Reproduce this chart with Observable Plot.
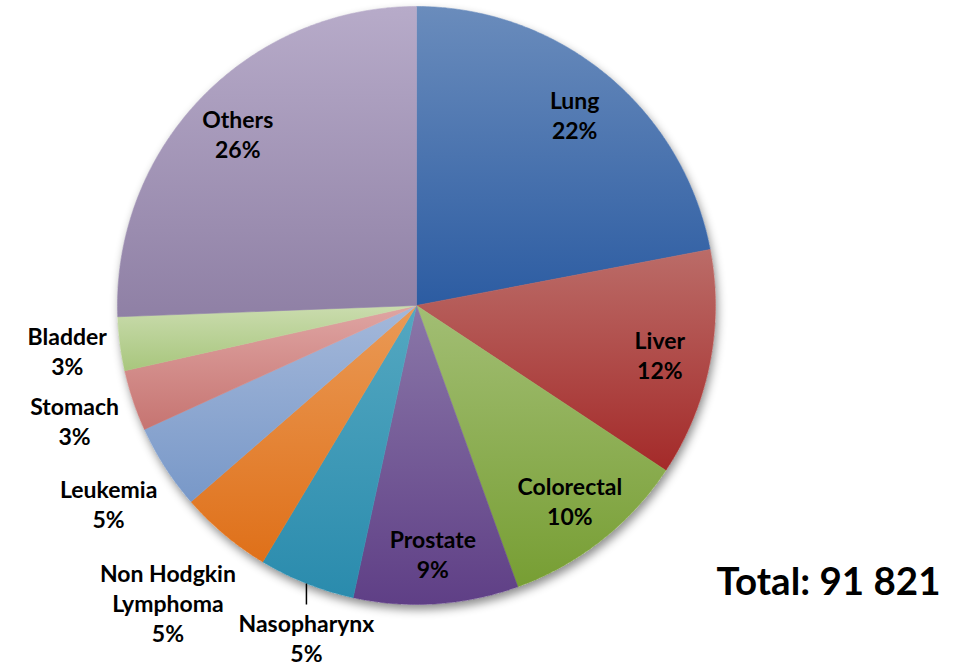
<!DOCTYPE html>
<html><head><meta charset="utf-8">
<script src="https://cdn.jsdelivr.net/npm/d3@7"></script>
<script src="https://cdn.jsdelivr.net/npm/@observablehq/plot@0.6"></script>
<style>body{margin:0;background:#fff} #chart{width:968px;height:666px}</style>
</head><body><div id="chart"></div>
<script>
// ---- data ----
const cancers = ["Lung","Liver","Colorectal","Prostate","Nasopharynx","Non Hodgkin Lymphoma","Leukemia","Stomach","Bladder","Others"];
const labelNames = ["Lung","Liver","Colorectal","Prostate","Nasopharynx","Non Hodgkin\nLymphoma","Leukemia","Stomach","Bladder","Others"];
const shares = [22.0, 12.3, 10.2, 8.9, 5.2, 5.0, 4.6, 3.3, 2.9, 25.6];
const totalLabel = "Total: 91 821";
// ---- palette ----
const gradTop    = ["#6a8cbc","#bb6c68","#a2be74","#8a77a8","#54a8c1","#ea9a56","#a4b8da","#dfa5a3","#cadcae","#b7abc9"];
const gradBottom = ["#2c5ca2","#a42a29","#779e33","#5f3f86","#2a8bad","#df7019","#7898c8","#c67471","#a8c67d","#8f80a5"];

// ---- layout ----
const W = 968, H = 666, CX = 416, CY = 305, R = 299;
const FONT = "Lato, 'Open Sans', sans-serif";
const FS = 23, LH = 1.3;

const arcs = d3.pie().sort(null).value(d => d)(shares);
const step = Math.PI / 360;
const slices = arcs.map((a, i) => {
  const n = Math.max(2, Math.ceil((a.endAngle - a.startAngle) / step));
  const pts = [{x: 0, y: 0}];
  for (let k = 0; k <= n; k++) {
    const t = a.startAngle + (a.endAngle - a.startAngle) * k / n;
    pts.push({x: Math.sin(t), y: Math.cos(t)});
  }
  pts.push({x: 0, y: 0});
  return pts;
});
const circle = d3.range(0, 721).map(k => ({x: Math.sin(k * step), y: Math.cos(k * step)}));

// measure text
const ctx = document.createElement("canvas").getContext("2d");
ctx.font = `bold ${FS}px ${FONT}`;

const labels = [];
const leaders = [];
arcs.forEach((a, i) => {
  const mid = (a.startAngle + a.endAngle) / 2;
  const ux = Math.sin(mid), uy = -Math.cos(mid); // screen direction
  const text = labelNames[i] + "\n" + Math.round(shares[i]) + "%";
  const lines = text.split("\n");
  if (shares[i] >= 8) {
    const r = 0.83;
    labels.push({x: r * ux, y: -r * uy, text});
  } else {
    const w = d3.max(lines, l => ctx.measureText(l).width) / 2;
    const h = lines.length * FS * LH / 2;
    if (Math.abs(uy) > 0.9) {
      const ex = R * ux, ey = R * uy;
      const drop = 21;
      leaders.push({x1: ex / R, y1: -ey / R, x2: ex / R, y2: -(ey + drop) / R});
      labels.push({x: ex / R, y: -(ey + drop + 3 + h) / R, text});
    } else {
      const extent = Math.abs(ux) * w + Math.abs(uy) * h;
      const r = (R + 10 + extent) / R;
      labels.push({x: r * ux, y: -r * uy, text});
    }
  }
});

const plot = Plot.plot({
  width: W, height: H,
  margin: 0,
  x: {domain: [-CX / R, (W - CX) / R], axis: null},
  y: {domain: [-(H - CY) / R, CY / R], axis: null},
  style: {fontFamily: FONT, background: "white"},
  marks: [
    Plot.line(circle, {x: "x", y: "y", fill: "white", stroke: "none"}),
    ...slices.map((pts, i) => Plot.line(pts, {x: "x", y: "y", fill: `url(#sg${i})`, stroke: `url(#sg${i})`, strokeWidth: 0.6})),
    Plot.link(leaders, {x1: "x1", y1: "y1", x2: "x2", y2: "y2", stroke: "black", strokeWidth: 1.5}),
    Plot.text(labels, {x: "x", y: "y", text: "text", fontSize: FS, fontWeight: "bold", fontFamily: FONT, lineHeight: LH, fill: "black", textAnchor: "middle", lineAnchor: "middle"}),
    Plot.text([totalLabel], {frameAnchor: "bottom-right", text: d => d, textAnchor: "end", lineAnchor: "middle", dx: -28, dy: -84, fontSize: 38.5, fontWeight: "bold", fontFamily: FONT, fill: "black"})
  ]
});
document.getElementById("chart").appendChild(plot);

const svg = plot.tagName.toLowerCase() === "svg" ? plot : plot.querySelector("svg");
const defs = d3.select(svg).insert("defs", ":first-child");
gradTop.forEach((c, i) => {
  const g = defs.append("linearGradient").attr("id", "sg" + i).attr("x1", 0).attr("y1", 0).attr("x2", 0).attr("y2", 1);
  g.append("stop").attr("offset", "0%").attr("stop-color", c);
  g.append("stop").attr("offset", "100%").attr("stop-color", gradBottom[i]);
});
const f = defs.append("filter").attr("id", "pieShadow").attr("x", "-20%").attr("y", "-20%").attr("width", "140%").attr("height", "140%");
f.append("feDropShadow").attr("dx", 2).attr("dy", 5).attr("stdDeviation", 5).attr("flood-color", "#000").attr("flood-opacity", 0.45);
const shadowG = svg.querySelector('g[aria-label="line"]');
if (shadowG) shadowG.setAttribute("filter", "url(#pieShadow)");
</script>
</body></html>
